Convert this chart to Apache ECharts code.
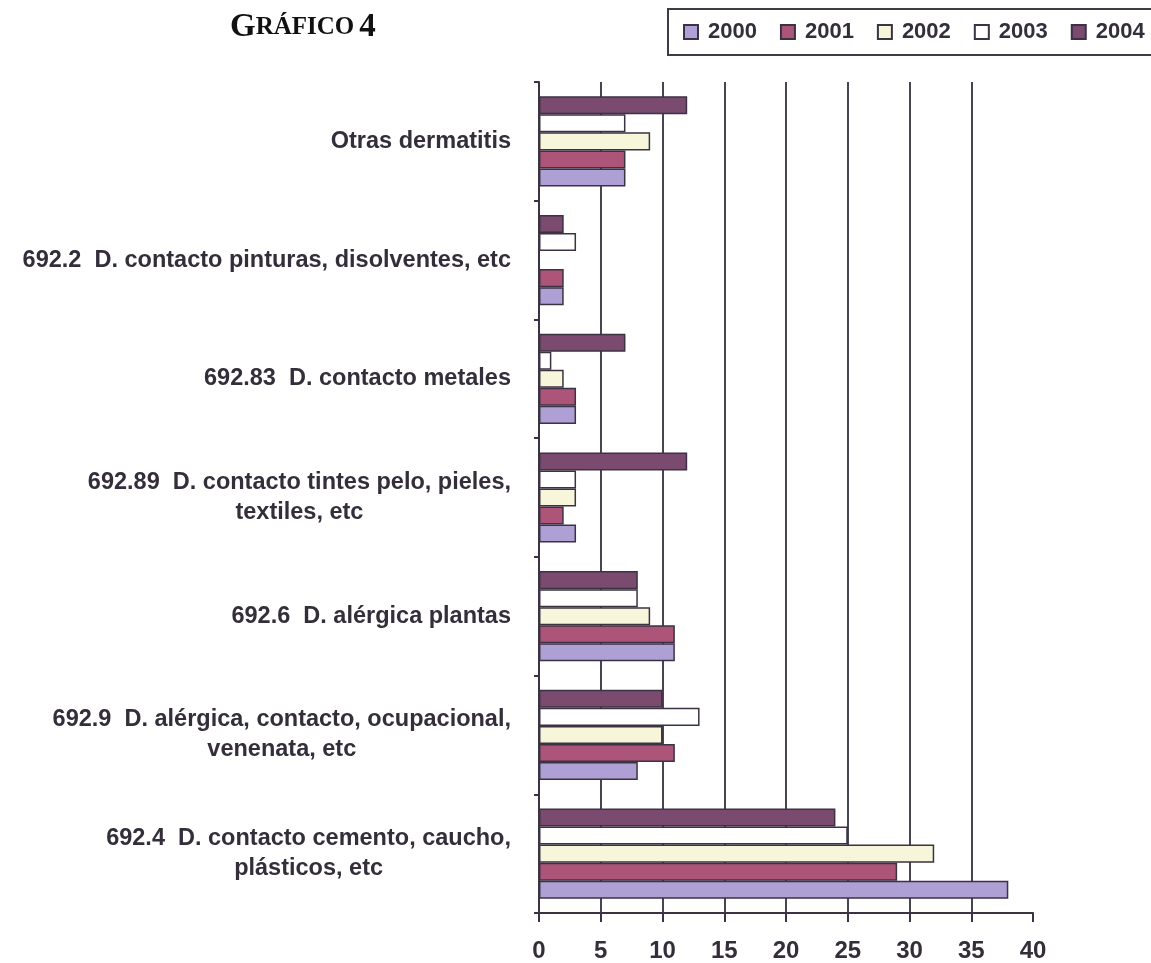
<!DOCTYPE html>
<html>
<head>
<meta charset="utf-8">
<script src="https://cdn.jsdelivr.net/npm/echarts@6/dist/echarts.min.js"></script>
<style>
  html, body { margin: 0; padding: 0; background: #ffffff; }
  #chart { width: 1151px; height: 963px; }
</style>
</head>
<body>
<div id="chart"></div>
<script>
// Categories listed bottom-to-top as they appear on the y axis
var categories = [
  "692.4  D. contacto cemento, caucho,\nplásticos, etc",
  "692.9  D. alérgica, contacto, ocupacional,\nvenenata, etc",
  "692.6  D. alérgica plantas",
  "692.89  D. contacto tintes pelo, pieles,\ntextiles, etc",
  "692.83  D. contacto metales",
  "692.2  D. contacto pinturas, disolventes, etc",
  "Otras dermatitis"
];
var seriesNames = ["2000", "2001", "2002", "2003", "2004"];
var values2000 = [38, 8, 11, 3, 3, 2, 7];
var values2001 = [29, 11, 11, 2, 3, 2, 7];
var values2002 = [32, 10, 9, 3, 2, 0, 9];
var values2003 = [25, 13, 8, 3, 1, 3, 7];
var values2004 = [24, 10, 8, 12, 7, 2, 12];
var xTicks = [0, 5, 10, 15, 20, 25, 30, 35, 40];

var allValues = [values2000, values2001, values2002, values2003, values2004];
var colors = ["#ae9fd5", "#ad5479", "#f7f6da", "#ffffff", "#7a4a6f"];
var edge = "#3b3343";
var textColor = "#332e3a";

var chart = echarts.init(document.getElementById('chart'));

// ECharts stacks grouped horizontal bars top-down in series order,
// so series are added from 2004 to 2000 to put 2000 at the bottom of each group.
var series = [];
for (var i = seriesNames.length - 1; i >= 0; i--) {
  series.push({
    name: seriesNames[i],
    type: 'bar',
    data: allValues[i],
    barGap: '0%',
    barCategoryGap: '24%',
    itemStyle: { color: colors[i], borderColor: edge, borderWidth: 1.5 }
  });
}

var gridColors = xTicks.map(function (t, i) {
  return (i === 0 || i === xTicks.length - 1) ? 'rgba(0,0,0,0)' : '#4a4352';
});

chart.setOption({
  animation: false,
  backgroundColor: '#ffffff',
  title: {
    text: '{a|G}{b|RÁFICO} {a|4}',
    left: 225,
    top: 6,
    textStyle: {
      rich: {
        a: { fontFamily: 'Liberation Serif', fontWeight: 'bold', fontSize: 33, color: '#111111' },
        b: { fontFamily: 'Liberation Serif', fontWeight: 'bold', fontSize: 25, color: '#111111' }
      }
    }
  },
  legend: {
    data: seriesNames,
    left: 668,
    top: 9,
    width: 900,
    orient: 'horizontal',
    padding: [12, 40, 12, 15],
    itemWidth: 14,
    itemHeight: 14,
    itemGap: 23,
    borderColor: '#3f3a46',
    borderWidth: 2,
    icon: 'rect',
    textStyle: {
      fontFamily: 'Liberation Sans',
      fontWeight: 'bold',
      fontSize: 22,
      color: textColor,
      padding: [0, 0, 0, 5]
    }
  },
  grid: { left: 539, right: 118, top: 82, bottom: 49, containLabel: false },
  xAxis: {
    type: 'value',
    min: 0,
    max: 40,
    interval: 5,
    axisLine: { show: true, lineStyle: { color: edge, width: 2 } },
    axisTick: { show: true, length: 9, lineStyle: { color: edge, width: 2 } },
    axisLabel: {
      margin: 26,
      fontFamily: 'Liberation Sans',
      fontWeight: 'bold',
      fontSize: 24,
      color: textColor
    },
    splitLine: { show: true, lineStyle: { color: gridColors, width: 2 } }
  },
  yAxis: {
    type: 'category',
    data: categories,
    axisLine: { show: true, lineStyle: { color: edge, width: 2 } },
    axisTick: { show: true, length: 5, lineStyle: { color: edge, width: 2 } },
    axisLabel: {
      margin: 28,
      interval: 0,
      color: textColor,
      formatter: function (v) {
        return v.split('\n').map(function (l) { return '{c|' + l + '}'; }).join('\n');
      },
      rich: {
        c: {
          align: 'center',
          fontFamily: 'Liberation Sans',
          fontWeight: 'bold',
          fontSize: 23.5,
          lineHeight: 30,
          color: textColor
        }
      }
    },
    splitLine: { show: false }
  },
  series: series
});
</script>
</body>
</html>
